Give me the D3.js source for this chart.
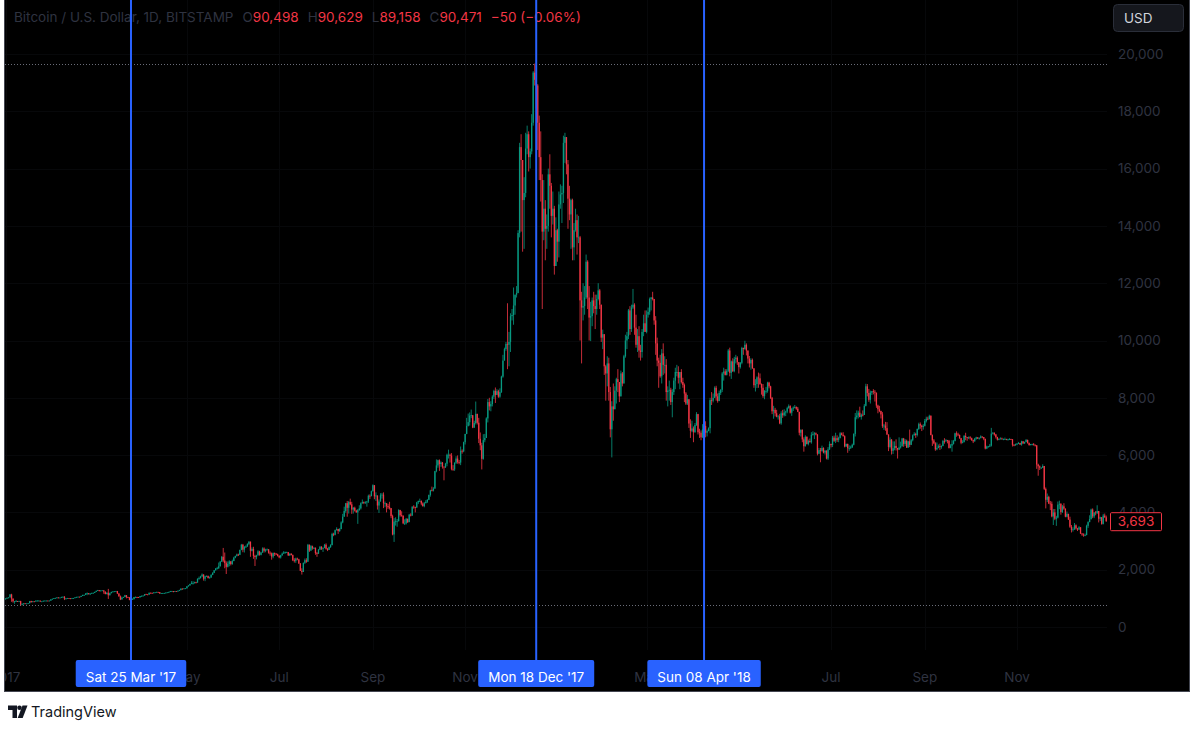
<!DOCTYPE html>
<meta charset="utf-8">
<style>
    body { margin: 0; background: #fff; }
    svg { display: block; }
    text { font-family: Inter, "Noto Sans", sans-serif; }
    .axis-label { fill: #2f3340; font-size: 13.5px; }
    .marker-label { fill: #fff; font-size: 13.5px; }
</style>
<body>
<script src="https://d3js.org/d3.v7.min.js"></script>
<script>

// first candle date and its open, each candle below is [high, low, close]
// (open of a candle = close of the previous one)
var startDate = "2017-01-01";
var firstOpen = 966;

var candles2017 = [
    // Jan
    [1000,960,998],[1030,990,1017],[1035,1005,1033],[1150,1030,1135],[1160,880,990],[1000,850,895],[905,810,900],[940,880,905],[910,875,900],[915,890,905],
    [915,752,780],[820,755,810],[835,780,825],[835,805,820],[825,805,820],[835,815,830],[910,825,905],[915,850,870],[905,865,895],[900,870,890],
    [925,885,920],[935,895,920],[925,910,920],[920,880,890],[900,885,895],[920,890,915],[925,905,920],[925,912,920],[922,910,915],[925,910,920],[970,915,965],
    // Feb
    [990,960,985],[1010,980,1005],[1020,1000,1015],[1040,1005,1030],[1035,1005,1015],[1030,1010,1025],[1055,1020,1050],[1070,1030,1055],[1080,940,985],[1005,960,1000],
    [1015,995,1010],[1012,995,1000],[1005,975,995],[1015,990,1010],[1015,1000,1010],[1040,1008,1035],[1055,1030,1050],[1065,1045,1055],[1060,1040,1050],[1090,1045,1085],
    [1125,1080,1120],[1130,1100,1120],[1180,1115,1170],[1205,1110,1180],[1180,1130,1150],[1175,1115,1170],[1195,1165,1190],[1205,1175,1190],
    // Mar
    [1230,1185,1225],[1275,1220,1260],[1295,1255,1290],[1290,1240,1265],[1280,1245,1275],[1285,1265,1280],[1280,1160,1235],[1240,1140,1150],[1210,1140,1195],[1330,980,1110],
    [1200,1100,1180],[1230,1175,1225],[1245,1210,1240],[1250,1225,1245],[1260,1240,1255],[1260,1150,1170],[1175,1060,1070],[1100,940,960],[1060,960,1020],[1055,1015,1045],
    [1120,1040,1110],[1115,1000,1040],[1055,1020,1035],[1040,935,940],[980,900,965],[1000,955,970],[1050,965,1045],[1065,1020,1045],[1055,1010,1040],[1050,1015,1035],[1085,1030,1080],
    // Apr
    [1100,1070,1085],[1105,1075,1095],[1150,1090,1145],[1160,1125,1140],[1140,1110,1130],[1200,1125,1195],[1200,1170,1190],[1200,1170,1180],[1215,1175,1205],[1215,1195,1210],
    [1230,1205,1225],[1225,1200,1215],[1220,1160,1170],[1190,1165,1180],[1190,1170,1185],[1195,1175,1185],[1205,1175,1200],[1215,1195,1210],[1230,1195,1225],[1260,1220,1250],
    [1260,1235,1250],[1255,1210,1245],[1255,1235,1250],[1255,1235,1245],[1270,1240,1265],[1300,1260,1285],[1345,1285,1340],[1345,1305,1335],[1350,1325,1345],[1360,1330,1350],
    // May
    [1425,1345,1420],[1460,1410,1450],[1510,1445,1500],[1600,1495,1530],[1600,1480,1530],[1580,1520,1565],[1580,1520,1550],[1700,1545,1680],[1760,1650,1710],[1790,1690,1765],
    [1870,1755,1830],[1840,1620,1685],[1790,1600,1770],[1800,1745,1785],[1790,1690,1710],[1760,1690,1730],[1840,1715,1820],[1910,1810,1890],[1990,1880,1980],[2060,1970,2040],
    [2100,2010,2050],[2250,2030,2120],[2300,2110,2280],[2480,2270,2450],[2760,2260,2320],[2600,2050,2230],[2290,1850,2100],[2290,2080,2200],[2330,2120,2290],[2300,2150,2200],[2350,2170,2300],
    // Jun
    [2450,2300,2420],[2490,2400,2480],[2560,2460,2530],[2560,2480,2520],[2700,2510,2690],[2900,2680,2870],[2900,2610,2700],[2820,2600,2800],[2850,2760,2810],[2920,2800,2900],
    [2990,2860,2980],[2980,2450,2660],[2780,2640,2720],[2800,2380,2480],[2520,2130,2440],[2520,2360,2500],[2680,2490,2640],[2660,2490,2520],[2620,2500,2600],[2780,2590,2740],
    [2780,2600,2660],[2730,2610,2700],[2740,2670,2710],[2720,2560,2590],[2640,2490,2570],[2600,2350,2460],[2600,2400,2580],[2600,2480,2560],[2580,2510,2540],[2560,2460,2480],
    // Jul
    [2510,2400,2430],[2520,2390,2500],[2600,2490,2560],[2650,2560,2600],[2630,2560,2610],[2630,2590,2610],[2620,2480,2500],[2570,2480,2560],[2570,2500,2510],[2530,2300,2330],
    [2400,2250,2310],[2420,2240,2390],[2420,2330,2360],[2380,2200,2220],[2230,1960,1960],[2050,1830,1920],[2250,1920,2240],[2390,2200,2330],[2400,2240,2280],[2900,2270,2870],
    [2880,2620,2670],[2860,2650,2820],[2840,2700,2750],[2790,2720,2760],[2780,2520,2580],[2620,2450,2560],[2720,2550,2700],[2830,2690,2800],[2820,2690,2730],[2780,2620,2760],[2900,2750,2870],
    // Aug
    [2920,2700,2730],[2760,2650,2690],[2810,2690,2790],[2890,2760,2860],[3290,2850,3250],[3290,3170,3220],[3400,3200,3380],[3480,3370,3420],[3430,3250,3350],[3450,3320,3420],
    [3690,3410,3650],[3950,3620,3850],[4200,3850,4050],[4330,3990,4320],[4400,3850,4160],[4400,3960,4360],[4480,4250,4280],[4370,3950,4100],[4190,3960,4160],[4200,4030,4060],
    [4090,3990,4000],[4120,3600,4080],[4250,4060,4140],[4350,4100,4320],[4450,4300,4360],[4380,4290,4340],[4390,4300,4350],[4400,4200,4380],[4620,4330,4580],[4630,4470,4570],[4760,4560,4740],
    // Sep
    [4980,4730,4950],[4950,4460,4560],[4700,4400,4590],[4590,4100,4240],[4450,3980,4380],[4670,4380,4600],[4680,4480,4620],[4700,4150,4320],[4380,4180,4320],[4320,4000,4220],
    [4300,4120,4180],[4370,4100,4150],[4150,3800,3870],[3920,3200,3230],[3800,2970,3680],[3830,3540,3690],[3770,3500,3690],[4110,3690,4080],[4090,3850,3900],[4040,3850,3880],
    [3900,3590,3620],[3760,3560,3620],[3800,3580,3780],[3780,3630,3660],[3950,3660,3920],[3970,3860,3890],[4210,3880,4200],[4250,4130,4190],[4200,4000,4170],[4370,4160,4350],
    // Oct
    [4410,4290,4400],[4480,4370,4400],[4420,4250,4310],[4350,4200,4220],[4360,4180,4320],[4430,4320,4370],[4460,4330,4440],[4620,4430,4610],[4790,4550,4770],[4900,4740,4760],
    [4880,4730,4830],[5450,4830,5440],[5850,5400,5640],[5840,5560,5820],[5850,5450,5690],[5780,5590,5740],[5760,5530,5600],[5600,5120,5570],[5730,5550,5700],[6050,5610,6010],
    [6190,5880,6010],[6050,5740,5980],[6070,5470,5520],[5650,5450,5500],[5750,5450,5730],[5960,5690,5880],[5990,5700,5760],[5830,5680,5740],[6300,5650,6150],[6200,6050,6130],[6470,6100,6450],
    // Nov
    [6740,6370,6740],[7300,6730,7020],[7450,7000,7150],[7490,7030,7380],[7590,7290,7390],[7400,6940,6960],[7200,6950,7120],[7870,7070,7440],[7440,7070,7130],[7300,6420,6570],
    [6790,6170,6340],[6430,5500,5870],[6730,5840,6520],[6740,6450,6600],[7320,6600,7280],[7960,7140,7850],[8000,7560,7700],[7880,7530,7780],[8090,7700,8040],[8280,7960,8240],
    [8360,7820,8100],[8300,8100,8230],[8280,8000,8040],[8330,8000,8200],[8770,8170,8740],[9500,8700,9300],[9750,9300,9700],[9950,9640,9880],[11300,9000,9850],[10300,9100,9950],
    // Dec
    [10950,9600,10850],[11100,10700,10890],[11850,10550,11220],[11600,10900,11600],[11900,11500,11660],[13850,11650,13750],[16900,13600,16750],[17200,13800,16300],[16300,13100,14900],[15700,13200,15150],
    [17250,15000,16700],[17500,16500,17200],[17300,15900,16400],[16700,16000,16600],[17900,16500,17600],[19400,17500,19350],[19666,18900,19100],[19150,18100,18900],[18950,16650,17600],[17850,15600,16400],
    [17300,14850,15600],[15800,11100,13800],[15600,13500,14600],[14900,12800,13900],[14400,13200,14000],[16000,13800,15800],[16500,14600,15400],[15500,13600,14350],[15200,14050,14600],[14700,12300,12600],[14300,12600,13850]
];

var candles2018 = [
    // Jan
    [13900,12750,13450],[15200,12900,14750],[15450,14600,15100],[15400,14100,15150],[17150,14800,16900],[17250,16200,17100],[17100,15800,16150],[16300,13900,14950],[15400,14200,14400],[14950,13200,14900],
    [14950,12800,13250],[14100,12800,13850],[14600,13800,14200],[14400,13000,13600],[14350,13400,13600],[13650,10000,11400],[11700,9200,11150],[12000,10700,11200],[11900,10900,11500],[13000,11450,12750],
    [12800,11100,11500],[11900,10000,10800],[11350,9980,10850],[11500,10500,11400],[11700,10950,11200],[11600,10400,11100],[11600,10900,11450],[12000,11400,11750],[11800,11100,11250],[11250,9950,10100],[10380,9700,10220],
    // Feb
    [10200,8800,9100],[9150,7900,8850],[9450,8400,9200],[9400,7900,8200],[8380,6620,6900],[7880,5920,7700],[8500,7200,7600],[8400,7600,8250],[8700,7800,8650],[9000,8200,8550],
    [8550,7850,8050],[8950,8050,8850],[8900,8400,8500],[9500,8500,9450],[10200,9400,10000],[10300,9700,10150],[11100,10050,11050],[11200,10200,10400],[11250,10300,11150],[11800,11100,11250],
    [11300,10200,10450],[10900,9750,9850],[10400,9600,10150],[10500,9400,9650],[9850,9300,9600],[10400,9400,10300],[10900,10150,10600],[11050,10300,10300],
    // Mar
    [11050,10250,10900],[11150,10800,11000],[11500,10900,11450],[11520,11050,11500],[11700,11400,11450],[11450,10550,10700],[10850,9500,9900],[10100,9100,9300],[9400,8350,9220],[9500,8700,8750],
    [9700,8500,9550],[9900,8800,9150],[9450,8850,9150],[9350,7900,8200],[8400,7700,8250],[8600,7900,8280],[8350,7750,7850],[8300,7320,8200],[8700,8100,8600],[9050,8300,8900],
    [9150,8750,8900],[9100,8500,8700],[8900,8300,8900],[9000,8500,8550],[8700,8350,8450],[8500,7850,8150],[8200,7750,7800],[8100,7750,7950],[7950,6950,7100],[7250,6600,6850],[7200,6800,6930],
    // Apr
    [7000,6450,6800],[7120,6780,7050],[7500,7020,7430],[7440,6720,6800],[6920,6600,6780],[6860,6520,6620],[7080,6600,6900],[7100,6880,7020],[7180,6620,6780],[6890,6650,6840],
    [6970,6830,6940],[8000,6760,7920],[8200,7750,7900],[8150,7840,8000],[8400,7990,8350],[8420,7900,8050],[8150,7830,7890],[8250,7880,8170],[8300,8100,8280],[8900,8200,8850],
    [9050,8600,8920],[9000,8780,8800],[9000,8780,8940],[9700,8900,9650],[9750,8750,8870],[9300,8660,9270],[9380,8900,8930],[9430,8890,9350],[9500,9200,9400],[9450,9150,9240],
    // May
    [9250,8850,9070],[9250,9020,9220],[9780,9170,9740],[9750,9500,9700],[9990,9680,9850],[9900,9480,9650],[9650,9200,9370],[9460,9060,9200],[9380,8980,9320],[9370,9010,9030],
    [9030,8350,8440],[8650,8220,8480],[8750,8340,8710],[8880,8350,8680],[8850,8450,8480],[8500,8110,8350],[8480,8000,8060],[8270,7950,8240],[8380,8150,8240],[8560,8180,8530],
    [8560,8330,8400],[8420,7960,8000],[8030,7430,7530],[7720,7270,7580],[7650,7350,7460],[7580,7320,7340],[7400,7240,7350],[7440,7080,7110],[7530,7060,7460],[7580,7300,7390],[7600,7350,7490],
    // Jun
    [7550,7360,7520],[7690,7460,7640],[7770,7620,7710],[7740,7450,7480],[7650,7370,7620],[7700,7540,7660],[7750,7630,7680],[7700,7580,7620],[7680,7500,7510],[7510,6690,6780],
    [6900,6650,6880],[6900,6450,6550],[6620,6120,6310],[6690,6300,6640],[6650,6370,6390],[6540,6340,6490],[6580,6440,6450],[6800,6400,6710],[6830,6680,6730],[6800,6560,6760],
    [6790,6690,6720],[6730,5990,6050],[6250,6030,6170],[6250,5750,6150],[6330,6120,6250],[6270,6060,6090],[6180,6020,6150],[6170,5850,5880],[6280,5830,6200],[6480,6180,6390],
    // Jul
    [6400,6270,6350],[6670,6280,6610],[6680,6460,6500],[6780,6420,6590],[6690,6460,6530],[6640,6450,6600],[6800,6580,6760],[6790,6690,6710],[6800,6650,6660],[6690,6270,6300],
    [6400,6290,6390],[6400,6080,6240],[6340,6150,6240],[6330,6220,6270],[6400,6250,6360],[6760,6340,6740],[7470,6650,7320],[7560,7250,7380],[7550,7280,7480],[7690,7320,7330],
    [7450,7240,7410],[7560,7350,7400],[7780,7400,7720],[8490,7700,8400],[8480,8050,8170],[8310,7860,7930],[8250,7800,8180],[8240,8100,8230],[8300,8120,8210],[8270,7870,8180],[8180,7650,7730],
    // Aug
    [7760,7460,7600],[7720,7500,7540],[7550,7280,7420],[7500,6950,7010],[7090,6880,7030],[7160,6850,6940],[7150,6700,6720],[6720,6140,6280],[6620,6230,6540],[6560,6020,6150],
    [6480,6040,6240],[6480,6170,6320],[6550,6160,6250],[6250,5880,6190],[6620,6180,6270],[6470,6230,6310],[6600,6300,6580],[6600,6290,6390],[6560,6320,6500],[6540,6250,6260],
    [6500,6260,6480],[6890,6280,6360],[6560,6350,6520],[6720,6480,6690],[6800,6680,6740],[6780,6600,6700],[6930,6650,6910],[7130,6880,7080],[7140,6920,7030],[7060,6840,6980],[7080,6890,7020],
    // Sep
    [7260,7000,7190],[7340,7140,7270],[7340,7220,7260],[7410,7240,7370],[7390,6690,6700],[6720,6320,6510],[6560,6380,6410],[6450,6150,6200],[6440,6170,6250],[6370,6240,6310],
    [6400,6180,6280],[6340,6220,6320],[6530,6310,6490],[6590,6400,6480],[6560,6470,6520],[6530,6410,6500],[6530,6230,6250],[6380,6240,6330],[6520,6120,6390],[6530,6370,6490],
    [6780,6480,6760],[6830,6640,6720],[6780,6670,6700],[6720,6570,6590],[6600,6380,6430],[6520,6410,6460],[6700,6440,6670],[6780,6520,6630],[6630,6500,6600],[6650,6560,6620],
    // Oct
    [6660,6540,6590],[6610,6500,6520],[6540,6420,6480],[6600,6470,6570],[6640,6540,6620],[6620,6560,6580],[6620,6540,6600],[6690,6580,6650],[6650,6590,6630],[6630,6520,6570],
    [6570,6200,6230],[6330,6210,6300],[6320,6270,6300],[6390,6280,6330],[6950,6300,6750],[6800,6720,6780],[6790,6680,6720],[6740,6580,6630],[6640,6510,6540],[6590,6520,6560],
    [6620,6550,6580],[6610,6540,6560],[6580,6520,6560],[6610,6540,6560],[6570,6520,6540],[6570,6510,6550],[6590,6530,6560],[6570,6530,6550],[6560,6300,6360],[6380,6310,6340],[6400,6330,6380],
    // Nov
    [6420,6350,6400],[6460,6390,6420],[6430,6350,6370],[6500,6330,6480],[6490,6390,6410],[6470,6390,6460],[6560,6450,6530],[6540,6400,6420],[6440,6330,6350],[6390,6340,6380],
    [6400,6340,6380],[6420,6330,6360],[6370,6300,6340],[6350,5520,5670],[5700,5280,5610],[5640,5480,5560],[5580,5520,5560],[5680,5550,5620],[5620,4780,4820],[4870,4140,4440],
    [4660,4360,4540],[4580,4290,4310],[4400,4080,4300],[4380,3830,3860],[4120,3560,4000],[4120,3730,3780],[3880,3530,3820],[4380,3790,4270],[4410,4110,4300],[4320,3920,4010],
    // Dec (to the 30th)
    [4260,3980,4210],[4320,4090,4130],[4140,3830,3850],[4030,3830,3950],[3950,3740,3750],[3850,3460,3500],[3560,3300,3390],[3480,3330,3410],[3630,3390,3550],[3580,3400,3440],
    [3460,3350,3400],[3520,3390,3480],[3480,3250,3260],[3280,3180,3230],[3270,3150,3200],[3260,3170,3210],[3570,3200,3530],[3690,3460,3660],[3900,3660,3770],[4130,3750,4100],
    [4140,3800,3860],[4000,3800,4000],[4050,3900,3970],[4250,3950,4050],[4050,3650,3780],[3850,3700,3830],[3840,3570,3600],[3950,3580,3890],[3960,3810,3830],[3890,3670,3693]
];

var priceTicks = [0, 2000, 4000, 6000, 8000, 10000, 12000, 14000, 16000, 18000, 20000];
// month ticks; labels fully hidden under the date markers are left out
var timeTicks = [
    ["2017-01-01", "2017"], ["2017-05-01", "May"], ["2017-07-01", "Jul"],
    ["2017-09-01", "Sep"], ["2017-11-01", "Nov"], ["2018-03-01", "Mar"],
    ["2018-07-01", "Jul"], ["2018-09-01", "Sep"], ["2018-11-01", "Nov"]
];
var markers = [["2017-03-25", "Sat 25 Mar '17"], ["2017-12-18", "Mon 18 Dec '17"], ["2018-04-08", "Sun 08 Apr '18"]];
var rangeHigh = 19666;
var rangeLow = 752;
var lastPrice = 3693;
var legendTitle = "Bitcoin / U.S. Dollar, 1D, BITSTAMP";
var legendValues = [["O", "90,498"], ["H", "90,629"], ["L", "89,158"], ["C", "90,471"]];
var legendChange = "\u221250 (\u22120.06%)";

var W = 1200, H = 731;
var pane = {left: 5, right: 1189, top: 0, bottom: 691};
var green = "#089981", red = "#f23645", blue = "#2962ff", faint = "#2f3340";

var parse = d3.utcParse("%Y-%m-%d");
var day0 = parse(startDate);

// build candle objects
var data = [];
var prev = firstOpen;
candles2017.concat(candles2018).forEach(function(c, i) {
    var o = prev;
    data.push({
        date: d3.utcDay.offset(day0, i),
        open: o,
        high: Math.max(c[0], o, c[2]),
        low: Math.min(c[1], o, c[2]),
        close: c[2]
    });
    prev = c[2];
});

var x = d3.scaleUtc()
    .domain([day0, data[data.length - 1].date])
    .range([5.5, 5.5 + (data.length - 1) * 1.512]);
var y = d3.scaleLinear().domain([0, 20000]).range([627, 54]);

var svg = d3.select("body").append("svg")
    .attr("width", W)
    .attr("height", H);

svg.append("defs").append("clipPath").attr("id", "paneClip")
   .append("rect")
    .attr("x", pane.left).attr("y", pane.top)
    .attr("width", pane.right - pane.left).attr("height", pane.bottom - pane.top);

// black chart pane
svg.append("rect")
    .attr("x", pane.left).attr("y", pane.top)
    .attr("width", pane.right - pane.left).attr("height", pane.bottom - pane.top)
    .attr("fill", "#000");

var g = svg.append("g").attr("clip-path", "url(#paneClip)");

// gridlines (barely visible)
g.append("g").selectAll("line").data(priceTicks).join("line")
    .attr("x1", pane.left).attr("x2", 1107)
    .attr("y1", function(d) { return Math.round(y(d)) + 0.5; })
    .attr("y2", function(d) { return Math.round(y(d)) + 0.5; })
    .attr("stroke", "#07080a");
g.append("g").selectAll("line").data(timeTicks).join("line")
    .attr("x1", function(d) { return Math.round(x(parse(d[0]))) + 0.5; })
    .attr("x2", function(d) { return Math.round(x(parse(d[0]))) + 0.5; })
    .attr("y1", 0).attr("y2", 650)
    .attr("stroke", "#07080a");

// high / low of visible range
g.append("g").selectAll("line").data([rangeHigh, rangeLow]).join("line")
    .attr("x1", pane.left).attr("x2", 1107)
    .attr("y1", function(d) { return Math.round(y(d)) + 0.5; })
    .attr("y2", function(d) { return Math.round(y(d)) + 0.5; })
    .attr("stroke", "#6a6d78")
    .attr("stroke-dasharray", "1,2");

// candles
var candle = g.append("g").selectAll("g").data(data).join("g")
    .attr("fill", function(d) { return d.close >= d.open ? green : red; });
candle.append("rect")
    .attr("x", function(d) { return x(d.date) - 0.5; })
    .attr("width", 1)
    .attr("y", function(d) { return y(d.high); })
    .attr("height", function(d) { return Math.max(0.5, y(d.low) - y(d.high)); })
    .attr("opacity", 0.8);
candle.append("rect")
    .attr("x", function(d) { return x(d.date) - 0.65; })
    .attr("width", 1.3)
    .attr("y", function(d) { return y(Math.max(d.open, d.close)); })
    .attr("height", function(d) { return Math.max(0.8, Math.abs(y(d.open) - y(d.close))); });

// price scale labels
g.append("g").selectAll("text").data(priceTicks).join("text")
    .attr("class", "axis-label")
    .attr("x", 1118)
    .attr("y", function(d) { return y(d); })
    .attr("dy", "0.35em")
    .text(d3.format(","));

// time scale labels
g.append("g").selectAll("text").data(timeTicks).join("text")
    .attr("class", "axis-label")
    .attr("x", function(d) { return x(parse(d[0])); })
    .attr("y", 682)
    .attr("text-anchor", "middle")
    .text(function(d) { return d[1]; });

// legend
var legend = g.append("text").attr("x", 14).attr("y", 22).attr("font-size", 13.5);
legend.append("tspan").attr("fill", faint).text(legendTitle);
legendValues.forEach(function(v) {
    legend.append("tspan").attr("fill", faint).attr("dx", 9).text(v[0]);
    legend.append("tspan").attr("fill", red).text(v[1]);
});
legend.append("tspan").attr("fill", red).attr("dx", 9).text(legendChange);

// vertical marker lines with date labels
var mk = g.append("g").selectAll("g").data(markers).join("g")
    .attr("transform", function(d) { return "translate(" + x(parse(d[0])) + ",0)"; });
mk.append("line")
    .attr("y1", 0).attr("y2", 661)
    .attr("stroke", blue).attr("stroke-width", 2);
mk.each(function(d) {
    var sel = d3.select(this);
    var t = sel.append("text").attr("class", "marker-label")
        .attr("y", 682).attr("text-anchor", "middle").text(d[1]);
    var w = t.node().getComputedTextLength() + 20;
    sel.insert("rect", "text")
        .attr("x", -w / 2).attr("y", 660)
        .attr("width", w).attr("height", 27)
        .attr("rx", 2)
        .attr("fill", blue);
});

// last price label
var lp = g.append("g").attr("transform", "translate(1110," + y(lastPrice) + ")");
lp.append("rect")
    .attr("x", 0.5).attr("y", -8.5)
    .attr("width", 51).attr("height", 18)
    .attr("rx", 1)
    .attr("fill", "#000").attr("stroke", red);
lp.append("text")
    .attr("x", 26).attr("dy", "0.35em")
    .attr("text-anchor", "middle")
    .attr("fill", red).attr("font-size", 13.5)
    .text(d3.format(",")(lastPrice));

// currency button
var usd = svg.append("g").attr("transform", "translate(1113,4)");
usd.append("rect")
    .attr("x", 0.5).attr("y", 0.5)
    .attr("width", 70).attr("height", 27)
    .attr("rx", 4)
    .attr("fill", "#15171d").attr("stroke", "#2a2e39");
usd.append("text")
    .attr("x", 11).attr("y", 19)
    .attr("fill", "#d1d4dc").attr("font-size", 13.5)
    .text("USD");

// pane border
svg.append("rect")
    .attr("x", pane.left - 0.5).attr("y", -1)
    .attr("width", pane.right - pane.left + 1).attr("height", pane.bottom + 1.5)
    .attr("fill", "none").attr("stroke", "#434651");

// TradingView logo
var logo = svg.append("g").attr("fill", "#131722");
logo.append("path").attr("d", "M8,705.5h9v12.5h-4.5v-8h-4.5z");
logo.append("circle").attr("cx", 19.5).attr("cy", 707.8).attr("r", 2.3);
logo.append("path").attr("d", "M22.5,705.5h5l-4.8,12.5h-5z");
svg.append("text")
    .attr("x", 31).attr("y", 717)
    .attr("fill", "#131722").attr("font-size", 14.5)
    .text("TradingView");

</script>
</body>
